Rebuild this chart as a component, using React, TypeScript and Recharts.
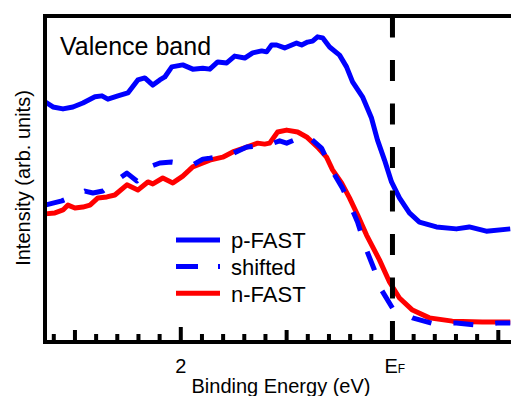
import React from 'react';
import { LineChart, Line, XAxis, YAxis, ReferenceLine } from 'recharts';

const FONT = '"Liberation Sans", Arial, Helvetica, sans-serif';

// p-FAST valence band (binding energy in eV, intensity in arb. units)
const pFastEnergy = [
  3.283, 3.208, 3.113, 3.019, 2.925, 2.811, 2.745, 2.689, 2.594, 2.5, 2.406, 2.34, 2.264, 2.198,
  2.151, 2.085, 1.981, 1.887, 1.792, 1.726, 1.651, 1.566, 1.491, 1.396, 1.321, 1.236, 1.189, 1.142,
  1.094, 1.019, 0.906, 0.858, 0.802, 0.755, 0.708, 0.66, 0.594, 0.5, 0.434, 0.377, 0.283, 0.198,
  0.142, 0.075, 0.009, -0.066, -0.16, -0.255, -0.415, -0.604, -0.726, -0.887, -1.113,
];
const pFastIntensity = [
  73.7, 72.1, 71.5, 72.1, 73.3, 75.2, 75.5, 74.5, 75.5, 76.4, 80.4, 81.0, 78.8, 80.4,
  81.3, 84.4, 85.0, 83.7, 84.0, 83.7, 85.9, 85.6, 87.7, 87.1, 88.7, 89.3, 89.0, 91.1,
  91.1, 90.2, 91.7, 91.1, 92.0, 92.3, 93.6, 93.3, 90.5, 88.0, 84.4, 79.8, 75.2, 68.7,
  62.0, 55.8, 49.1, 44.2, 39.6, 36.8, 35.3, 34.7, 35.3, 34.0, 34.7,
];

// p-FAST spectrum shifted onto the n-FAST one
const shiftedEnergy = [
  3.283, 3.208, 3.123, 2.906, 2.83, 2.736, 2.575, 2.509, 2.415, 2.274, 2.198, 2.085, 1.887, 1.792,
  1.726, 1.538, 1.377, 1.179, 1.066, 1.0, 0.811, 0.67, 0.575, 0.472, 0.387, 0.33, 0.245, 0.17,
  0.104, 0.0, -0.189, -0.368, -0.604, -0.792, -0.991, -1.113,
];
const shiftedIntensity = [
  42.0, 42.6, 43.3, 46.3, 45.7, 46.3, 50.3, 51.8, 49.4, 54.0, 54.9, 55.2, 54.3, 56.1,
  56.4, 57.4, 59.8, 60.4, 61.7, 61.0, 63.5, 59.5, 52.8, 47.2, 41.1, 36.8, 28.2, 22.1,
  16.0, 10.4, 7.4, 5.8, 5.8, 5.2, 5.8, 5.8,
];

// n-FAST valence band
const nFastEnergy = [
  3.283, 3.189, 3.113, 3.066, 3.0, 2.925, 2.858, 2.783, 2.698, 2.623, 2.509, 2.406, 2.311, 2.264,
  2.17, 2.075, 1.981, 1.887, 1.792, 1.726, 1.604, 1.509, 1.377, 1.274, 1.208, 1.16, 1.085, 1.0,
  0.896, 0.811, 0.708, 0.623, 0.566, 0.481, 0.406, 0.33, 0.245, 0.123, 0.028, -0.066, -0.189,
  -0.349, -0.566, -0.849, -1.113,
];
const nFastIntensity = [
  39.3, 39.6, 40.5, 42.0, 41.1, 41.4, 42.0, 44.2, 44.5, 45.1, 48.2, 46.6, 49.1, 48.5,
  50.3, 48.8, 50.9, 53.7, 54.9, 55.8, 56.7, 58.3, 59.8, 61.0, 60.7, 61.0, 64.4, 65.0,
  64.4, 62.9, 59.8, 56.7, 52.8, 48.8, 44.2, 39.0, 32.8, 25.2, 18.4, 13.5, 9.8,
  7.4, 6.4, 6.1, 6.1,
];

// Axis ranges and ticks
const energyDomain = [-1.12, 3.28];
const intensityDomain = [0, 100];
const energyTicks = [
  3.2, 3, 2.8, 2.6, 2.4, 2.2, 2, 1.8, 1.6, 1.4, 1.2, 1, 0.8, 0.6, 0.4, 0.2, 0, -0.2, -0.4, -0.6,
  -0.8, -1,
];
const majorTicks = [2, 0];
const mediumTicks = [3, 1, -1];
const labelledTicks = [2, 0];
const labelMain = ['2', 'E'];
const labelSub = ['', 'F'];
const intensityTicks = [0, 100];
const fermiLevel = 0;

// Titles
const panelTitle = 'Valence band';
const xTitle = 'Binding Energy (eV)';
const yTitle = 'Intensity (arb. units)';

// Legend entries, in display order
const legendNames = ['p-FAST', 'shifted', 'n-FAST'];
const legendColors = ['#0000ff', '#0000ff', '#ff0000'];
const legendDashes = ['', '22 20', ''];

const LINE_W = 5;
const FRAME = { stroke: '#000', strokeWidth: 4, strokeLinecap: 'square' as const };

const toPoints = (energy: number[], intensity: number[]) =>
  energy.map((e, k) => ({ energy: e, intensity: intensity[k] }));

const pFast = toPoints(pFastEnergy, pFastIntensity);
const shifted = toPoints(shiftedEnergy, shiftedIntensity);
const nFast = toPoints(nFastEnergy, nFastIntensity);

const isNear = (a: number, list: number[]) => list.some((b) => Math.abs(a - b) < 1e-6);

const tickLen = (v: number, major: number, medium: number, minor: number) =>
  isNear(v, majorTicks) ? major : isNear(v, mediumTicks) ? medium : minor;

const BottomTick = (props: any) => {
  const { x, y, payload } = props;
  const v = payload.value as number;
  const len = tickLen(v, 15, 12, 8);
  const idx = labelledTicks.findIndex((t) => Math.abs(t - v) < 1e-6);
  return (
    <g>
      <line x1={x} y1={y} x2={x} y2={y - len} stroke="#000" strokeWidth={4} />
      {idx >= 0 && (
        <text
          x={labelSub[idx] ? x - 8 : x}
          y={y + 31}
          textAnchor={labelSub[idx] ? 'start' : 'middle'}
          fontFamily={FONT}
          fontSize={20}
          fill="#000"
        >
          {labelMain[idx]}
          {labelSub[idx] && <tspan fontSize={12}>{labelSub[idx]}</tspan>}
        </text>
      )}
    </g>
  );
};

const TopTick = (props: any) => {
  const { x, y, payload } = props;
  const len = tickLen(payload.value as number, 14, 11, 7);
  return <line x1={x} y1={y} x2={x} y2={y + len} stroke="#000" strokeWidth={4} />;
};

const NoTick = () => <g />;

// Titles and legend, laid over the chart surface
const Overlay = () => (
  <svg
    width={511}
    height={396}
    style={{ position: 'absolute', left: 0, top: 0, pointerEvents: 'none', overflow: 'visible' }}
  >
    <text x={60} y={54.5} fontFamily={FONT} fontSize={25} fill="#000">
      {panelTitle}
    </text>
    <text x={281} y={392.5} textAnchor="middle" fontFamily={FONT} fontSize={20} fill="#000">
      {xTitle}
    </text>
    <text
      transform="translate(30, 178) rotate(-90)"
      textAnchor="middle"
      fontFamily={FONT}
      fontSize={20}
      fill="#000"
    >
      {yTitle}
    </text>
    <g transform="translate(170, 225)">
      {legendNames.map((name, i) => (
        <g key={name}>
          <line
            x1={6}
            x2={50}
            y1={15 + i * 26.6}
            y2={15 + i * 26.6}
            stroke={legendColors[i]}
            strokeWidth={LINE_W}
            strokeDasharray={legendDashes[i] || undefined}
          />
          <text x={61} y={23.3 + i * 26.6} fontFamily={FONT} fontSize={22} fill="#000">
            {name}
          </text>
        </g>
      ))}
    </g>
  </svg>
);

export default function App() {
  return (
    <div style={{ position: 'absolute', left: 0, top: 0, width: 511, height: 396, background: '#fff' }}>
      <LineChart width={511} height={396} margin={{ top: 0, right: 0, bottom: 0, left: 0 }}>
        <XAxis
          xAxisId="bottom"
          dataKey="energy"
          type="number"
          domain={energyDomain}
          reversed
          ticks={energyTicks}
          interval={0}
          height={54}
          tickSize={0}
          tickMargin={0}
          tickLine={false}
          tick={<BottomTick />}
          axisLine={FRAME}
        />
        <XAxis
          xAxisId="top"
          orientation="top"
          dataKey="energy"
          type="number"
          domain={energyDomain}
          reversed
          ticks={energyTicks}
          interval={0}
          height={16}
          tickSize={0}
          tickMargin={0}
          tickLine={false}
          tick={<TopTick />}
          axisLine={FRAME}
        />
        <YAxis
          type="number"
          domain={intensityDomain}
          ticks={intensityTicks}
          width={45}
          tick={<NoTick />}
          tickLine={false}
          tickSize={0}
          axisLine={FRAME}
        />
        <Line
          xAxisId="bottom"
          data={pFast}
          dataKey="intensity"
          name="p-FAST"
          stroke="#0000ff"
          strokeWidth={LINE_W}
          strokeLinejoin="round"
          dot={false}
          activeDot={false}
          type="linear"
          isAnimationActive={false}
        />
        <Line
          xAxisId="bottom"
          data={nFast}
          dataKey="intensity"
          name="n-FAST"
          stroke="#ff0000"
          strokeWidth={LINE_W}
          strokeLinejoin="round"
          dot={false}
          activeDot={false}
          type="linear"
          isAnimationActive={false}
        />
        <Line
          xAxisId="bottom"
          data={shifted}
          dataKey="intensity"
          name="shifted"
          stroke="#0000ff"
          strokeWidth={LINE_W}
          strokeDasharray="20 22"
          strokeLinejoin="round"
          dot={false}
          activeDot={false}
          type="linear"
          isAnimationActive={false}
        />
        <ReferenceLine
          xAxisId="bottom"
          x={fermiLevel}
          stroke="#000"
          strokeWidth={5}
          strokeDasharray="21 22.5"
        />
      </LineChart>
      <Overlay />
    </div>
  );
}
